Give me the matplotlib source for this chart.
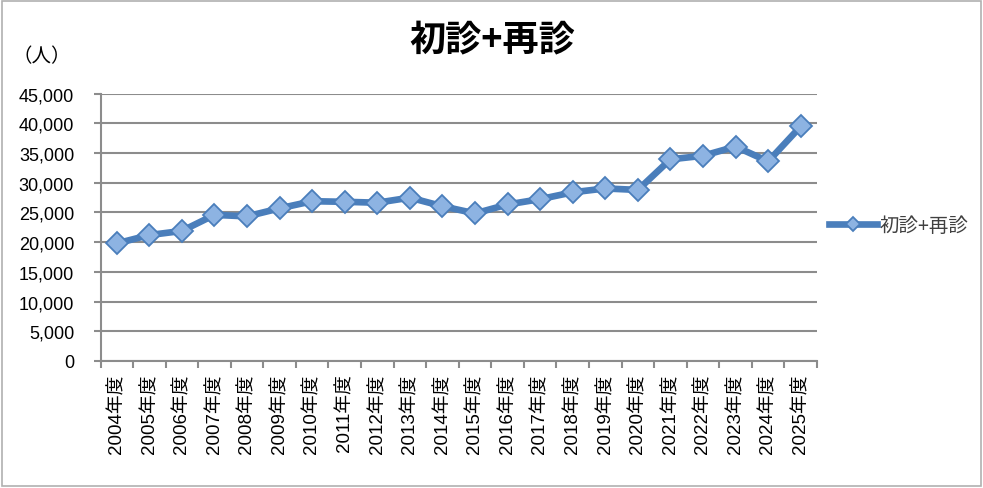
import matplotlib
matplotlib.use("Agg")
import matplotlib.pyplot as plt
from matplotlib.patches import Rectangle
from matplotlib.ticker import FuncFormatter, MultipleLocator, FixedLocator, NullFormatter

plt.rcParams['font.family'] = ['Liberation Sans', 'Noto Sans CJK JP', 'DejaVu Sans']

years = [f"{y}年度" for y in range(2004, 2026)]
values = [19800, 21200, 21900, 24600, 24350, 25700, 26900, 26800, 26650, 27500,
          26050, 24850, 26350, 27250, 28400, 29050, 28800, 33950, 34550, 36100,
          33600, 39500]
series_name = "初診+再診"
title = "初診+再診"
unit_label = "（人）"

W, H = 983, 489
fig = plt.figure(figsize=(W / 100, H / 100), dpi=100)
fig.patch.set_facecolor('white')

left, right, top, bottom = 100.5, 817, 94.7, 362
ax = fig.add_axes([left / W, 1 - bottom / H, (right - left) / W, (bottom - top) / H])

x = list(range(len(years)))
line_color = '#4a7ebb'
marker_face = '#8db3e2'
ax.plot(x, values, color=line_color, linewidth=4.8, marker='D', markersize=11.5,
        markerfacecolor=marker_face, markeredgecolor=line_color, markeredgewidth=1.3,
        label=series_name, zorder=3, solid_joinstyle='round')

ax.set_xlim(-0.5, len(years) - 0.5)
ax.set_ylim(0, 45000)
ax.yaxis.set_major_locator(MultipleLocator(5000))
ax.yaxis.set_major_formatter(FuncFormatter(lambda v, p: f"{int(v):,}"))
ax.grid(axis='y', color='#8c8c8c', linewidth=1.5, zorder=0)
ax.set_axisbelow(True)

ax.xaxis.set_major_locator(FixedLocator([i - 0.5 for i in range(len(years) + 1)]))
ax.xaxis.set_major_formatter(NullFormatter())
ax.xaxis.set_minor_locator(FixedLocator(x))
ax.set_xticklabels(years, minor=True, rotation=90, fontsize=13.5)
ax.tick_params(axis='x', which='minor', length=0, pad=9)
ax.tick_params(axis='x', which='major', length=5, width=1.5, color='#8c8c8c', direction='out')
ax.tick_params(axis='y', length=5, width=1.5, color='#8c8c8c', direction='out', pad=14, labelsize=13)

for s in ['top', 'right']:
    ax.spines[s].set_visible(False)
for s in ['left', 'bottom']:
    ax.spines[s].set_color('#8c8c8c')
    ax.spines[s].set_linewidth(1.5)

fig.text(492 / W, 1 - 40 / H, title, fontsize=26, fontweight='bold',
         ha='center', va='center', family=['Noto Sans CJK JP', 'DejaVu Sans'])
fig.text(42 / W, 1 - 57 / H, unit_label, fontsize=14, ha='center', va='center',
         family=['Noto Sans CJK JP', 'DejaVu Sans'])

leg = ax.legend(loc='center left', bbox_to_anchor=(821 / W, 1 - 226 / H),
                bbox_transform=fig.transFigure, frameon=False,
                handlelength=2.5, handletextpad=0.1, borderaxespad=0, markerscale=0.6,
                prop={'family': ['Noto Sans CJK JP', 'DejaVu Sans'], 'size': 14})
for t in leg.get_texts():
    t.set_color('#404040')

fig.patches.append(Rectangle((1.5 / W, 1 - 486.5 / H), 979 / W, 484.5 / H,
                             transform=fig.transFigure, fill=False,
                             edgecolor='#b0b0b0', linewidth=1.2))

fig.savefig('out.png', dpi=100)
